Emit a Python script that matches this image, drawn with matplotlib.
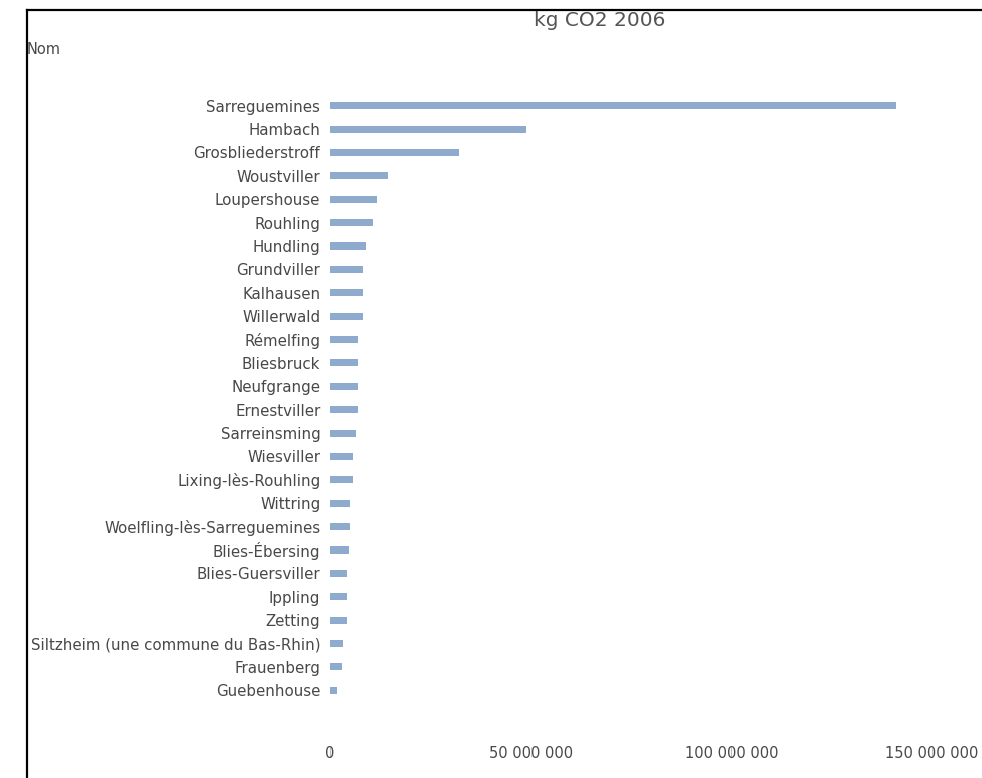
import matplotlib
matplotlib.use("Agg")
import matplotlib.pyplot as plt
from matplotlib.lines import Line2D
from matplotlib.ticker import FuncFormatter

communes = ["Sarreguemines", "Hambach", "Grosbliederstroff", "Woustviller",
            "Loupershouse", "Rouhling", "Hundling", "Grundviller", "Kalhausen",
            "Willerwald", "Rémelfing", "Bliesbruck", "Neufgrange", "Ernestviller",
            "Sarreinsming", "Wiesviller", "Lixing-lès-Rouhling", "Wittring",
            "Woelfling-lès-Sarreguemines", "Blies-Ébersing", "Blies-Guersviller",
            "Ippling", "Zetting", "Siltzheim (une commune du Bas-Rhin)",
            "Frauenberg", "Guebenhouse"]
kg_co2 = [141.0e6, 48.9e6, 32.2e6, 14.5e6, 11.7e6, 10.7e6, 9.0e6, 8.3e6, 8.1e6,
          8.1e6, 7.0e6, 7.0e6, 7.0e6, 7.0e6, 6.6e6, 5.8e6, 5.8e6, 5.1e6, 5.1e6,
          4.7e6, 4.3e6, 4.3e6, 4.3e6, 3.3e6, 3.1e6, 1.8e6]
xticks = [0, 50e6, 100e6, 150e6]

W, H = 982, 778
fig = plt.figure(figsize=(W / 100, H / 100), dpi=100)
plt.rcParams['font.family'] = ['DejaVu Sans']
txt = '#484848'

# axes box in pixels: left 330, right 932, top 94, bottom 702
ax = fig.add_axes([330 / W, 1 - 702 / H, (932 - 330) / W, (702 - 94) / H])
ypos = list(range(len(communes)))
ax.barh(ypos, kg_co2, height=0.3, color='#8eaacc')
ax.set_ylim(len(communes) - 0.5, -0.5)
ax.set_xlim(0, 150e6)

for s in ['top', 'right', 'left']:
    ax.spines[s].set_visible(False)
ax.spines['bottom'].set_position(('outward', 36))
ax.spines['bottom'].set_visible(False)

ax.set_yticks(ypos)
ax.set_yticklabels(communes, fontsize=10.8, color=txt)
ax.tick_params(axis='y', length=0, pad=7)

ax.set_xticks(xticks)
ax.xaxis.set_major_formatter(FuncFormatter(lambda v, p: f"{int(v):,}".replace(",", " ")))
ax.tick_params(axis='x', direction='inout', length=7, color='#bbbbbb',
               labelsize=10.5, labelcolor=txt, pad=-8)

fig.text(600 / W, 1 - 20 / H, "kg CO2 2006", ha='center', va='center',
         fontsize=14.5, color='#555555')
fig.text(27 / W, 1 - 50 / H, "Nom", ha='left', va='center', fontsize=10.5, color=txt)

# frame (top and left edges only)
fig.add_artist(Line2D([27 / W, 1], [1 - 10 / H, 1 - 10 / H], color='black', lw=1.6))
fig.add_artist(Line2D([27 / W, 27 / W], [0, 1 - 10 / H], color='black', lw=1.6))

fig.savefig("out.png", dpi=100)
